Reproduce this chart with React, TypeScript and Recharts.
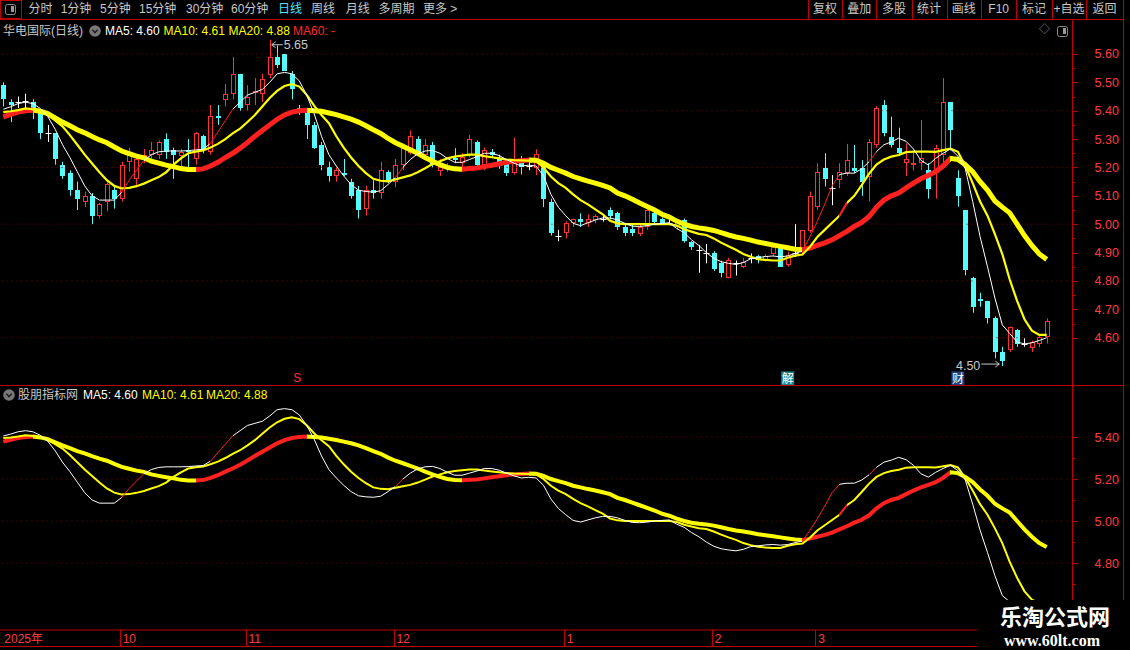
import React from 'react';
import { ComposedChart, Bar, Line, XAxis, YAxis, ReferenceLine, Scatter } from 'recharts';

// ---------- daily bars, oldest first ----------
const opens = [
  5.49, 5.43, 5.43, 5.435, 5.43, 5.40, 5.32, 5.32, 5.21, 5.18,
  5.12, 5.08, 5.10, 5.03, 5.08, 5.12, 5.09, 5.22, 5.16, 5.235,
  5.245, 5.245, 5.30, 5.26, 5.24, 5.26, 5.23, 5.31, 5.255, 5.38,
  5.437, 5.46, 5.53, 5.42, 5.465, 5.46, 5.525, 5.59, 5.60, 5.53,
  5.41, 5.40, 5.35, 5.28, 5.20, 5.17, 5.18, 5.15, 5.12, 5.055,
  5.12, 5.11, 5.185, 5.15, 5.21, 5.25, 5.30, 5.245, 5.28, 5.186,
  5.195, 5.235, 5.215, 5.245, 5.29, 5.21, 5.255, 5.235, 5.215, 5.18,
  5.215, 5.205, 5.197, 5.21, 5.08, 4.96, 4.968, 5.005, 5.018, 5.005,
  5.015, 5.02, 5.05, 5.038, 4.991, 4.982, 4.966, 4.99, 5.041, 5.017,
  5.005, 4.99, 5.015, 4.938, 4.91, 4.897, 4.897, 4.862, 4.809, 4.862,
  4.85, 4.882, 4.888, 4.874, 4.895, 4.915, 4.856, 4.90, 4.903, 4.977,
  5.06, 5.197, 5.126, 5.156, 5.179, 5.197, 5.197, 5.167, 5.279, 5.42,
  5.308, 5.27, 5.217, 5.21, 5.215, 5.19, 5.18, 5.245, 5.43, 5.162,
  5.05, 4.812, 4.738, 4.73, 4.671, 4.55, 4.557, 4.627, 4.578, 4.562,
  4.578, 4.603,
];
const highs = [
  5.50, 5.44, 5.45, 5.46, 5.44, 5.40, 5.35, 5.32, 5.22, 5.19,
  5.15, 5.115, 5.11, 5.075, 5.15, 5.135, 5.22, 5.27, 5.245, 5.265,
  5.29, 5.295, 5.32, 5.27, 5.265, 5.30, 5.325, 5.315, 5.42, 5.42,
  5.495, 5.59, 5.53, 5.49, 5.515, 5.53, 5.65, 5.63, 5.60, 5.54,
  5.42, 5.40, 5.36, 5.29, 5.22, 5.20, 5.23, 5.16, 5.135, 5.135,
  5.155, 5.22, 5.19, 5.23, 5.285, 5.33, 5.31, 5.30, 5.29, 5.23,
  5.215, 5.268, 5.25, 5.315, 5.295, 5.27, 5.265, 5.245, 5.22, 5.305,
  5.24, 5.22, 5.264, 5.22, 5.09, 4.98, 5.01, 5.02, 5.038, 5.035,
  5.035, 5.032, 5.059, 5.044, 4.997, 4.997, 5.003, 5.053, 5.05, 5.024,
  5.015, 5.015, 5.02, 4.94, 4.927, 4.93, 4.905, 4.871, 4.882, 4.872,
  4.882, 4.897, 4.892, 4.895, 4.93, 4.925, 4.903, 5.00, 4.98, 5.115,
  5.215, 5.25, 5.173, 5.215, 5.283, 5.279, 5.226, 5.30, 5.416, 5.437,
  5.379, 5.34, 5.285, 5.256, 5.367, 5.215, 5.28, 5.515, 5.43, 5.19,
  5.05, 4.815, 4.758, 4.73, 4.675, 4.568, 4.64, 4.63, 4.598, 4.59,
  4.61, 4.668,
];
const lows = [
  5.415, 5.36, 5.41, 5.41, 5.37, 5.30, 5.29, 5.21, 5.16, 5.10,
  5.05, 5.06, 5.00, 5.02, 5.045, 5.055, 5.08, 5.185, 5.13, 5.215,
  5.215, 5.23, 5.23, 5.16, 5.205, 5.20, 5.21, 5.25, 5.245, 5.35,
  5.415, 5.44, 5.40, 5.40, 5.42, 5.43, 5.515, 5.55, 5.54, 5.44,
  5.385, 5.30, 5.265, 5.19, 5.15, 5.15, 5.17, 5.09, 5.02, 5.03,
  5.09, 5.09, 5.145, 5.13, 5.19, 5.245, 5.245, 5.235, 5.20, 5.17,
  5.185, 5.215, 5.20, 5.235, 5.20, 5.19, 5.235, 5.195, 5.17, 5.175,
  5.175, 5.19, 5.173, 5.06, 4.96, 4.94, 4.95, 4.99, 4.99, 4.99,
  5.003, 5.009, 5.017, 4.98, 4.958, 4.958, 4.958, 4.98, 5.003, 4.997,
  5.0, 4.98, 4.935, 4.909, 4.829, 4.862, 4.835, 4.813, 4.809, 4.819,
  4.845, 4.862, 4.862, 4.868, 4.888, 4.85, 4.85, 4.885, 4.891, 4.97,
  5.05, 5.133, 5.067, 5.126, 5.17, 5.18, 5.10, 5.08, 5.27, 5.31,
  5.27, 5.24, 5.17, 5.19, 5.19, 5.09, 5.09, 5.215, 5.26, 5.062,
  4.82, 4.688, 4.709, 4.65, 4.527, 4.50, 4.55, 4.568, 4.568, 4.55,
  4.566, 4.58,
];
const closes = [
  5.44, 5.42, 5.43, 5.435, 5.41, 5.32, 5.32, 5.23, 5.17, 5.12,
  5.09, 5.10, 5.03, 5.07, 5.14, 5.09, 5.21, 5.25, 5.23, 5.245,
  5.26, 5.29, 5.255, 5.245, 5.255, 5.255, 5.32, 5.26, 5.38, 5.375,
  5.458, 5.53, 5.41, 5.45, 5.47, 5.51, 5.59, 5.56, 5.54, 5.475,
  5.40, 5.35, 5.27, 5.21, 5.17, 5.19, 5.175, 5.10, 5.05, 5.12,
  5.11, 5.19, 5.15, 5.21, 5.27, 5.31, 5.25, 5.28, 5.21, 5.20,
  5.205, 5.225, 5.238, 5.30, 5.21, 5.26, 5.245, 5.205, 5.18, 5.215,
  5.20, 5.205, 5.247, 5.09, 4.97, 4.96, 5.005, 5.017, 5.008, 5.017,
  5.029, 5.02, 5.029, 4.991, 4.97, 4.97, 4.991, 5.05, 5.009, 5.005,
  5.005, 5.009, 4.94, 4.921, 4.91, 4.897, 4.841, 4.829, 4.874, 4.862,
  4.868, 4.882, 4.874, 4.888, 4.921, 4.85, 4.891, 4.90, 4.979, 5.099,
  5.185, 5.161, 5.126, 5.185, 5.228, 5.189, 5.15, 5.29, 5.408, 5.32,
  5.279, 5.25, 5.229, 5.217, 5.232, 5.123, 5.267, 5.43, 5.332, 5.10,
  4.838, 4.709, 4.730, 4.671, 4.55, 4.519, 4.636, 4.578, 4.578, 4.586,
  4.603, 4.66,
];

// ---------- moving averages ----------
const ma5 = [
  5.405, 5.414, 5.425, 5.43, 5.425, 5.408, 5.38, 5.335, 5.28, 5.235,
  5.185, 5.135, 5.10, 5.085, 5.085, 5.085, 5.112, 5.155, 5.19, 5.225,
  5.245, 5.255, 5.258, 5.258, 5.258, 5.259, 5.262, 5.264, 5.285, 5.325,
  5.365, 5.405, 5.43, 5.455, 5.465, 5.475, 5.50, 5.53, 5.535, 5.53,
  5.505, 5.455, 5.39, 5.31, 5.245, 5.205, 5.17, 5.14, 5.12, 5.115,
  5.113, 5.118, 5.14, 5.165, 5.20, 5.228, 5.248, 5.258, 5.26, 5.25,
  5.232, 5.218, 5.218, 5.228, 5.238, 5.25, 5.25, 5.242, 5.228, 5.215,
  5.205, 5.208, 5.205, 5.17, 5.105, 5.06, 5.03, 5.003, 4.995, 5.005,
  5.015, 5.022, 5.022, 5.015, 5.003, 4.993, 4.992, 4.995, 5.0, 5.003,
  5.005, 4.985, 4.97, 4.945, 4.925, 4.9, 4.88, 4.868, 4.862, 4.858,
  4.865, 4.878, 4.882, 4.886, 4.888, 4.885, 4.888, 4.897, 4.905, 4.955,
  5.01, 5.07, 5.135, 5.175, 5.18, 5.18, 5.195, 5.22, 5.256, 5.28,
  5.29, 5.303, 5.292, 5.265, 5.225, 5.209, 5.232, 5.25, 5.265, 5.24,
  5.195, 5.08, 4.956, 4.85, 4.74, 4.645, 4.615, 4.585, 4.578, 4.582,
  4.59, 4.60,
];
const ma10 = [
  5.395, 5.398, 5.402, 5.408, 5.405, 5.398, 5.385, 5.366, 5.345, 5.314,
  5.28, 5.245, 5.214, 5.183, 5.155, 5.135, 5.126, 5.128, 5.134, 5.143,
  5.155, 5.166, 5.183, 5.21, 5.232, 5.25, 5.256, 5.26, 5.27, 5.283,
  5.30, 5.32, 5.337, 5.36, 5.385, 5.415, 5.445, 5.47, 5.487, 5.494,
  5.485, 5.456, 5.418, 5.385, 5.356, 5.31, 5.27, 5.235, 5.205, 5.18,
  5.16, 5.153, 5.151, 5.158, 5.165, 5.172, 5.183, 5.197, 5.212, 5.222,
  5.232, 5.238, 5.242, 5.245, 5.245, 5.24, 5.236, 5.232, 5.228, 5.226,
  5.225, 5.224, 5.222, 5.20, 5.168, 5.145, 5.128, 5.105, 5.085, 5.07,
  5.052, 5.035, 5.012, 5.003, 5.0, 5.0, 5.0, 5.0, 5.0, 5.0,
  5.0, 4.995, 4.982, 4.974, 4.966, 4.962, 4.95, 4.935, 4.922, 4.91,
  4.895, 4.885, 4.877, 4.874, 4.872, 4.872, 4.882, 4.889, 4.893, 4.92,
  4.955, 4.98, 5.005, 5.03, 5.075, 5.10, 5.138, 5.178, 5.21, 5.228,
  5.238, 5.244, 5.254, 5.256, 5.256, 5.256, 5.255, 5.261, 5.266, 5.255,
  5.205, 5.145, 5.08, 5.03, 4.965, 4.895, 4.805, 4.73, 4.665, 4.625,
  4.61, 4.61,
];
const ma20 = [
  5.378, 5.387, 5.395, 5.40, 5.402, 5.398, 5.39, 5.375, 5.36, 5.347,
  5.333, 5.322, 5.309, 5.297, 5.287, 5.272, 5.258, 5.249, 5.24, 5.234,
  5.222, 5.215, 5.208, 5.203, 5.196, 5.193, 5.193, 5.195, 5.205, 5.218,
  5.235, 5.25, 5.268, 5.288, 5.31, 5.33, 5.35, 5.37, 5.385, 5.395,
  5.40, 5.402, 5.40, 5.398, 5.392, 5.386, 5.378, 5.37, 5.36, 5.347,
  5.333, 5.32, 5.302, 5.287, 5.275, 5.262, 5.25, 5.235, 5.222, 5.21,
  5.20, 5.195, 5.194, 5.196, 5.198, 5.203, 5.208, 5.213, 5.218, 5.222,
  5.224, 5.226, 5.225, 5.215, 5.20, 5.19, 5.18, 5.168, 5.16, 5.152,
  5.145, 5.137, 5.128, 5.11, 5.10, 5.088, 5.075, 5.062, 5.05, 5.035,
  5.025, 5.011, 5.0, 4.992, 4.987, 4.983, 4.978, 4.97, 4.962, 4.955,
  4.95, 4.944, 4.937, 4.932, 4.927, 4.922, 4.917, 4.912, 4.91, 4.916,
  4.925, 4.934, 4.945, 4.96, 4.975, 4.992, 5.006, 5.027, 5.06, 5.085,
  5.10, 5.11, 5.128, 5.145, 5.16, 5.172, 5.185, 5.205, 5.232, 5.228,
  5.21, 5.185, 5.15, 5.12, 5.082, 5.06, 5.04, 5.0, 4.96, 4.925,
  4.895, 4.876,
];

// ---------- axis labels ----------
const monthTickIdx = [0, 16, 33, 53, 76, 96, 110];
const monthLabels = ['2025年', '10', '11', '12', '1', '2', '3'];
const mainLabelTicks = [4.6, 4.7, 4.8, 4.9, 5.0, 5.1, 5.2, 5.3, 5.4, 5.5, 5.6];
const mainMinorTicks = [4.65, 4.75, 4.85, 4.95, 5.05, 5.15, 5.25, 5.35, 5.45, 5.55];
const mainGridLevels = [4.6, 4.8, 5.0, 5.2, 5.4, 5.6];
const lowerLabelTicks = [4.8, 5.0, 5.2, 5.4];
const lowerMinorTicks = [4.7, 4.9, 5.1, 5.3];
const eventMarks = [
  { i: 40, text: 'S', kind: 'sig' },
  { i: 106, text: '解', kind: 'unlock' },
  { i: 129, text: '财', kind: 'report' },
];
const periodTabs = ['分时', '1分钟', '5分钟', '15分钟', '30分钟', '60分钟', '日线', '周线', '月线', '多周期', '更多 >'];
const actionTabs = ['复权', '叠加', '多股', '统计', '画线', 'F10', '标记', '+自选', '返回'];

// ---------- look ----------
const FONT = '"Liberation Sans", Arial, "Noto Sans CJK SC", sans-serif';
const AXIS_RED = '#c00000';
const GRID_RED = '#8c0000';
const LABEL_RED = '#ff3c3c';
const CANDLE_RED = '#ff3232';
const CANDLE_CYAN = '#54fcfc';
const LINE_RED = '#ff2020';
const YELLOW = '#ffff00';
const WHITE = '#ffffff';

// layout of the toolbars
const TAB_X = [28.6, 60.7, 100, 139, 186, 231, 278, 311, 345.7, 378.6, 423];
const ACTION_EDGES = [808, 842, 876.4, 911.6, 946.5, 981, 1016.4, 1051.6, 1086.2, 1123];

// horizontal mapping: candle spacing 7.4px, plot spans 0..1072.5
const X_MIN = -3.3 / 7.4;
const X_MAX = X_MIN + 1072.5 / 7.4;
const MAIN_MAX = 5.40 + (110.7 - 20) / 283.75;
const MAIN_MIN = 5.40 - (385 - 110.7) / 283.75;
const LOW_MAX = 5.40 + 52 / 210;
const LOW_MIN = 5.40 - 193 / 210;
const MARK_LEVEL = 4.46;

const rows = opens.map((o, i) => ({
  i, o, h: highs[i], l: lows[i], c: closes[i], ma5: ma5[i], ma10: ma10[i], ma20: ma20[i],
}));

const hiIdx = highs.indexOf(Math.max(...highs));
const loIdx = lows.indexOf(Math.min(...lows));
const extremes = [
  { i: hiIdx, v: highs[hiIdx], side: 'hi' },
  { i: loIdx, v: lows[loIdx], side: 'lo' },
];
const marks = eventMarks.map((m) => ({ ...m, v: MARK_LEVEL }));

// colour runs: red where the average climbs faster than thr (relative)
function colourStops(vals: number[], thr: number, base: string) {
  const n = vals.length;
  const stops: { off: number; color: string }[] = [];
  let prev: string | null = null;
  for (let k = 1; k < n; k++) {
    const up = vals[k] - vals[k - 1] > thr * vals[k - 1];
    const col = up ? LINE_RED : base;
    const start = (k - 1) / (n - 1);
    if (col !== prev) {
      if (prev) stops.push({ off: start, color: prev });
      stops.push({ off: start, color: col });
      prev = col;
    }
  }
  stops.push({ off: 1, color: prev as string });
  return stops;
}
const stops5 = colourStops(ma5, 0.0065, WHITE);
const stops10 = colourStops(ma10, 0.008, YELLOW);
const stops20 = colourStops(ma20, 0, YELLOW);

function Grad({ id, stops }: { id: string; stops: { off: number; color: string }[] }) {
  return (
    <linearGradient id={id} x1="0" y1="0" x2="1" y2="0">
      {stops.map((s, k) => (
        <stop key={k} offset={s.off} stopColor={s.color} />
      ))}
    </linearGradient>
  );
}

function Candle(props: any) {
  const { x, y, width, height, payload } = props;
  if (x == null || y == null || !payload) return null;
  const { o, h, l, c } = payload;
  const cx = Math.round(x + width / 2) + 0.5;
  const span = h - l;
  const py = (p: number) => (span > 0 ? y + ((h - p) / span) * height : y);
  const yH = y;
  const yL = y + height;
  const top = Math.round(py(Math.max(o, c)));
  const bot = Math.round(py(Math.min(o, c)));
  if (c > o) {
    return (
      <g>
        <line x1={cx} x2={cx} y1={yH} y2={top} stroke={CANDLE_RED} />
        <line x1={cx} x2={cx} y1={bot} y2={yL} stroke={CANDLE_RED} />
        <rect x={cx - 2} y={top + 0.5} width={4} height={Math.max(bot - top - 1, 1)} fill="#000" stroke={CANDLE_RED} />
      </g>
    );
  }
  if (c < o) {
    return (
      <g>
        <line x1={cx} x2={cx} y1={yH} y2={yL} stroke={CANDLE_CYAN} />
        <rect x={cx - 2.5} y={top} width={5} height={Math.max(bot - top, 1)} fill={CANDLE_CYAN} />
      </g>
    );
  }
  const yo = Math.round(py(o)) + 0.5;
  return (
    <g>
      <line x1={cx} x2={cx} y1={yH} y2={yL} stroke={WHITE} />
      <line x1={cx - 3} x2={cx + 3} y1={yo} y2={yo} stroke={WHITE} />
    </g>
  );
}

function ExtremeMark(props: any) {
  const { cx, cy, payload } = props;
  if (cx == null || cy == null) return null;
  const txt = payload.v.toFixed(2);
  const col = '#c8c8c8';
  if (payload.side === 'hi') {
    const ay = cy + 5;
    return (
      <g>
        <line x1={cx + 2} x2={cx + 13} y1={ay} y2={ay} stroke={col} />
        <path d={`M${cx + 6},${ay - 3} L${cx + 2},${ay} L${cx + 6},${ay + 3}`} fill="none" stroke={col} />
        <text x={cx + 14} y={cy + 9.5} fill={col} fontSize={12.5} fontFamily={FONT}>{txt}</text>
      </g>
    );
  }
  const ay = cy - 2;
  return (
    <g>
      <line x1={cx - 21} x2={cx - 3} y1={ay} y2={ay} stroke={col} />
      <path d={`M${cx - 7},${ay - 3} L${cx - 3},${ay} L${cx - 7},${ay + 3}`} fill="none" stroke={col} />
      <text x={cx - 22} y={cy + 4} fill={col} fontSize={12.5} fontFamily={FONT} textAnchor="end">{txt}</text>
    </g>
  );
}

function EventMark(props: any) {
  const { cx, cy, payload } = props;
  if (cx == null || cy == null) return null;
  if (payload.kind === 'sig') {
    return (
      <text x={cx - 2} y={cy + 5} fill={CANDLE_RED} fontSize={12} fontFamily={FONT} textAnchor="middle">{payload.text}</text>
    );
  }
  const bg = payload.kind === 'unlock' ? '#1f7f86' : '#1d3f7c';
  return (
    <g>
      <rect x={cx - 6.5} y={cy - 6} width={13} height={14} fill={bg} />
      <text x={cx} y={cy + 5.5} fill={WHITE} fontSize={12} fontFamily={FONT} textAnchor="middle">{payload.text}</text>
    </g>
  );
}

function makePriceTick(labels: number[]) {
  return (props: any) => {
    const { x, y, payload } = props;
    const v = payload.value;
    const isLabel = labels.some((t) => Math.abs(t - v) < 1e-6);
    const yy = Math.round(y) + 0.5;
    return (
      <g>
        <line x1={x} x2={x + (isLabel ? 5 : 3)} y1={yy} y2={yy} stroke={AXIS_RED} />
        {isLabel && (
          <text x={x + 22} y={y + 4.5} fill={LABEL_RED} fontSize={12.5} fontFamily={FONT}>
            {v.toFixed(2)}
          </text>
        )}
      </g>
    );
  };
}

function DateTick(props: any) {
  const { x, y, payload } = props;
  const k = monthTickIdx.indexOf(payload.value);
  if (k < 0) return null;
  const lx = Math.round(x - 2) + 0.5;
  return (
    <g>
      {k > 0 && <line x1={lx} x2={lx} y1={y} y2={y + 16} stroke={AXIS_RED} />}
      <text x={x + 1} y={y + 12.5} fill={LABEL_RED} fontSize={12} fontFamily={FONT}>{monthLabels[k]}</text>
    </g>
  );
}

function T({ x, y, color, size = 12, children, weight, family, lh }: any) {
  return (
    <div
      style={{
        position: 'absolute', left: x, top: y, color, fontSize: size, lineHeight: `${lh || size + 2}px`,
        whiteSpace: 'nowrap', fontFamily: family || FONT, fontWeight: weight || 'normal',
      }}
    >
      {children}
    </div>
  );
}

function HLine({ x, y, w, color = AXIS_RED }: any) {
  return <div style={{ position: 'absolute', left: x, top: y, width: w, height: 1, background: color }} />;
}
function VLine({ x, y, h, color = AXIS_RED }: any) {
  return <div style={{ position: 'absolute', left: x, top: y, width: 1, height: h, background: color }} />;
}

function PanelIcon({ x, y }: any) {
  return (
    <div style={{ position: 'absolute', left: x, top: y, width: 11, height: 11, border: '1.5px solid #8a8a8a', borderRadius: 2.5, boxSizing: 'border-box' }}>
      <div style={{ position: 'absolute', right: 1, top: 1, width: 3, height: 6, background: '#9a9a9a' }} />
    </div>
  );
}

function CircleIcon({ x, y }: any) {
  return (
    <svg style={{ position: 'absolute', left: x, top: y }} width={12} height={12}>
      <circle cx={6} cy={6} r={5.8} fill="#777" />
      <path d="M3.3,4.8 L6,7.6 L8.7,4.8" fill="none" stroke="#222" strokeWidth={1.6} />
    </svg>
  );
}

export default function App() {
  const last = rows.length - 1;
  const ma5Txt = ma5[last].toFixed(2);
  const ma10Txt = ma10[last].toFixed(2);
  const ma20Txt = ma20[last].toFixed(2);

  return (
    <div style={{ position: 'absolute', left: 0, top: 0, width: 1130, height: 650, background: '#000', overflow: 'hidden', fontFamily: FONT }}>
      {/* candlestick panel */}
      <div style={{ position: 'absolute', left: 0, top: 20 }}>
        <ComposedChart width={1130} height={365} data={rows} margin={{ top: 0, right: 0, bottom: 0, left: 0 }}>
          <defs>
            <Grad id="mMa5" stops={stops5} />
            <Grad id="mMa10" stops={stops10} />
            <Grad id="mMa20" stops={stops20} />
          </defs>
          <XAxis type="number" dataKey="i" domain={[X_MIN, X_MAX]} allowDataOverflow hide />
          <YAxis
            orientation="right" type="number" domain={[MAIN_MIN, MAIN_MAX]} allowDataOverflow width={57.5}
            ticks={[...mainLabelTicks, ...mainMinorTicks]} interval={0} tick={makePriceTick(mainLabelTicks)}
            tickLine={false} tickSize={0} tickMargin={0} axisLine={{ stroke: AXIS_RED }}
          />
          {mainGridLevels.map((v) => (
            <ReferenceLine key={v} y={v} stroke={GRID_RED} strokeDasharray="1 4" />
          ))}
          <Bar dataKey={(d: any) => [d.l, d.h]} barSize={5} shape={Candle} isAnimationActive={false} />
          <Line type="linear" dataKey="ma20" stroke="url(#mMa20)" strokeWidth={5} dot={false} activeDot={false} isAnimationActive={false} />
          <Line type="linear" dataKey="ma10" stroke="url(#mMa10)" strokeWidth={2.2} dot={false} activeDot={false} isAnimationActive={false} />
          <Line type="linear" dataKey="ma5" stroke="url(#mMa5)" strokeWidth={1} dot={false} activeDot={false} isAnimationActive={false} />
          <Scatter data={extremes} dataKey="v" shape={ExtremeMark} isAnimationActive={false} />
          <Scatter data={marks} dataKey="v" shape={EventMark} isAnimationActive={false} />
        </ComposedChart>
      </div>

      {/* moving-average panel with the date axis */}
      <div style={{ position: 'absolute', left: 0, top: 385 }}>
        <ComposedChart width={1130} height={261} data={rows} margin={{ top: 0, right: 0, bottom: 0, left: 0 }}>
          <defs>
            <Grad id="lMa5" stops={stops5} />
            <Grad id="lMa10" stops={stops10} />
            <Grad id="lMa20" stops={stops20} />
          </defs>
          <XAxis
            type="number" dataKey="i" domain={[X_MIN, X_MAX]} allowDataOverflow height={16}
            ticks={monthTickIdx} interval={0} tick={DateTick} tickLine={false} tickSize={0} tickMargin={0}
            axisLine={{ stroke: AXIS_RED }}
          />
          <YAxis
            orientation="right" type="number" domain={[LOW_MIN, LOW_MAX]} allowDataOverflow width={57.5}
            ticks={[...lowerLabelTicks, ...lowerMinorTicks]} interval={0} tick={makePriceTick(lowerLabelTicks)}
            tickLine={false} tickSize={0} tickMargin={0} axisLine={{ stroke: AXIS_RED }}
          />
          {lowerLabelTicks.map((v) => (
            <ReferenceLine key={v} y={v} stroke={GRID_RED} strokeDasharray="1 4" />
          ))}
          <Line type="linear" dataKey="ma20" stroke="url(#lMa20)" strokeWidth={4} dot={false} activeDot={false} isAnimationActive={false} />
          <Line type="linear" dataKey="ma10" stroke="url(#lMa10)" strokeWidth={2} dot={false} activeDot={false} isAnimationActive={false} />
          <Line type="linear" dataKey="ma5" stroke="url(#lMa5)" strokeWidth={1} dot={false} activeDot={false} isAnimationActive={false} />
        </ComposedChart>
      </div>

      {/* frame lines */}
      <HLine x={0} y={19} w={1123} />
      <HLine x={0} y={385} w={1123} />
      <HLine x={0} y={646} w={1130} />
      <VLine x={1123} y={0} h={650} />

      {/* period toolbar */}
      <div style={{ position: 'absolute', left: 0, top: 0, width: 22, height: 19, border: `1px solid ${AXIS_RED}`, boxSizing: 'border-box' }} />
      <PanelIcon x={5} y={4} />
      {periodTabs.map((t, k) => (
        <T key={t} x={TAB_X[k]} y={2} color={t === '日线' ? '#50e4ff' : '#c8c8c8'} size={12}>{t}</T>
      ))}

      {/* action buttons */}
      {ACTION_EDGES.map((x) => (
        <VLine key={x} x={x} y={0} h={19} />
      ))}
      {actionTabs.map((t, k) => (
        <div
          key={t}
          style={{
            position: 'absolute', left: ACTION_EDGES[k], top: 2, width: ACTION_EDGES[k + 1] - ACTION_EDGES[k],
            textAlign: 'center', color: '#c8c8c8', fontSize: 12, lineHeight: '14px', fontFamily: FONT,
          }}
        >
          {t}
        </div>
      ))}

      {/* main panel title */}
      <T x={3} y={24} color="#c8c8c8">华电国际(日线)</T>
      <CircleIcon x={88.5} y={25} />
      <T x={105} y={24} color={WHITE}>{`MA5: ${ma5Txt}`}</T>
      <T x={163.5} y={24} color={YELLOW}>{`MA10: ${ma10Txt}`}</T>
      <T x={228.5} y={24} color={YELLOW}>{`MA20: ${ma20Txt}`}</T>
      <T x={293} y={24} color="#ff2a2a">MA60: -</T>
      <T x={1039} y={23} color="#9a9a9a" size={11}>◇</T>
      <PanelIcon x={1057} y={26} />

      {/* lower panel title */}
      <CircleIcon x={2.5} y={389} />
      <T x={18} y={388} color="#c8c8c8">股朋指标网</T>
      <T x={83} y={388} color={WHITE}>{`MA5: ${ma5Txt}`}</T>
      <T x={142} y={388} color={YELLOW}>{`MA10: ${ma10Txt}`}</T>
      <T x={206} y={388} color={YELLOW}>{`MA20: ${ma20Txt}`}</T>

      {/* site mark */}
      <div style={{ position: 'absolute', left: 977, top: 600, width: 153, height: 50, background: '#000' }} />
      <T x={1000} y={603} color={WHITE} size={22} lh={24} weight="bold" family='"Noto Sans CJK SC", sans-serif'>乐淘公式网</T>
      <T x={1004} y={633} color={WHITE} size={16} lh={15} weight="bold" family='"Liberation Serif", serif'>www.60lt.com</T>
    </div>
  );
}
